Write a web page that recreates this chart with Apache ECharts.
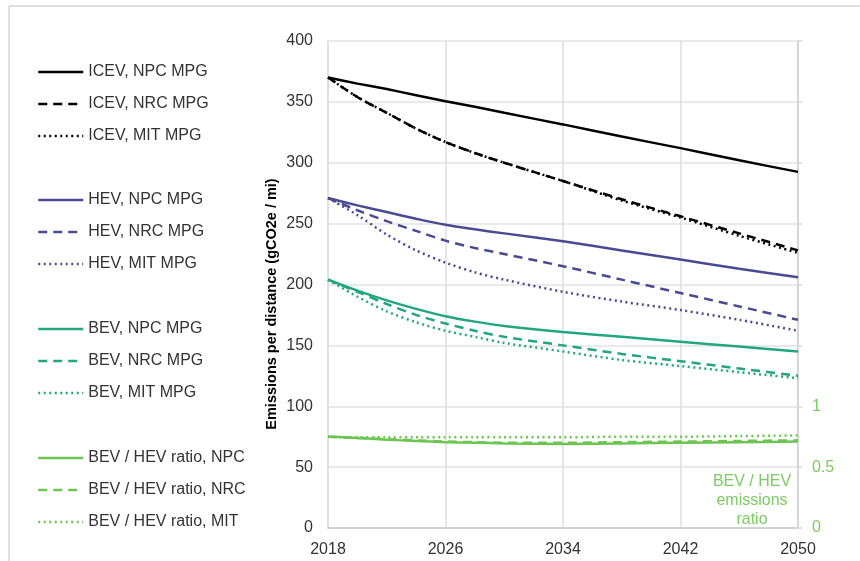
<!DOCTYPE html>
<html>
<head>
<meta charset="utf-8">
<script src="https://cdn.jsdelivr.net/npm/echarts@6/dist/echarts.min.js"></script>
<style>
html,body{margin:0;padding:0;background:#fff;}
#chart{width:860px;height:561px;}
</style>
</head>
<body>
<div id="chart"></div>
<script>
// ---- data ----
const years = [2018, 2020, 2022, 2024, 2026, 2028, 2030, 2034, 2038, 2042, 2046, 2050];
const xTicks = [2018, 2026, 2034, 2042, 2050];

const icevNPC = [370, 365, 360.5, 355.5, 350.5, 346, 341, 331.5, 321.5, 312, 302, 292.5];
const icevNRC = [370, 354, 341, 328, 317, 308, 300, 285, 270, 256, 242, 228];
const icevMIT = [370, 354, 341, 328, 317, 308, 300, 285, 269, 255, 240, 226];

const hevNPC = [271, 265, 259.5, 254, 249, 245.3, 242, 235.5, 228, 220.5, 213, 206];
const hevNRC = [271, 261, 252, 244, 236, 230, 225, 215, 204, 193, 182, 171];
const hevMIT = [271, 257, 241, 228, 218, 210, 204, 194, 186, 179, 171, 162];

const bevNPC = [204, 195, 187, 180, 174, 169.5, 166, 161, 157, 153, 149, 145];
const bevNRC = [204, 194, 184, 175, 168, 162, 157, 150, 143, 137, 131, 125];
const bevMIT = [204, 190, 178, 169, 162, 157, 152, 145, 138, 133, 128, 123];

const ratioNPC = [0.75, 0.74, 0.725, 0.715, 0.705, 0.70, 0.695, 0.69, 0.695, 0.70, 0.705, 0.71];
const ratioNRC = [0.75, 0.74, 0.73, 0.72, 0.71, 0.705, 0.70, 0.70, 0.705, 0.71, 0.715, 0.72];
const ratioMIT = [0.75, 0.745, 0.745, 0.745, 0.745, 0.745, 0.745, 0.745, 0.75, 0.75, 0.755, 0.76];

const leftTicks = [0, 50, 100, 150, 200, 250, 300, 350, 400];
const rightTicks = [0, 0.5, 1];

// ---- styling ----
const C_ICEV = '#000000';
const C_HEV = '#494b92';
const C_BEV = '#22a67f';
const C_RATIO = '#6cc551';
const C_RLABEL = '#7ccb60';
const DASH = [9, 6];
const DOT = [2, 3.5];

function pairs(vals) { return years.map((y, i) => [y, vals[i]]); }
function mk(name, vals, color, type, axis) {
  return {
    name: name, type: 'line', data: pairs(vals), yAxisIndex: axis || 0,
    symbol: 'none', smooth: 0.3, showSymbol: false,
    lineStyle: { color: color, width: 2.5, type: type },
    itemStyle: { color: color },
    emphasis: { disabled: true }
  };
}

const series = [
  mk('ICEV, NPC MPG', icevNPC, C_ICEV, 'solid'),
  mk('ICEV, NRC MPG', icevNRC, C_ICEV, DASH),
  mk('ICEV, MIT MPG', icevMIT, C_ICEV, DOT),
  mk('HEV, NPC MPG', hevNPC, C_HEV, 'solid'),
  mk('HEV, NRC MPG', hevNRC, C_HEV, DASH),
  mk('HEV, MIT MPG', hevMIT, C_HEV, DOT),
  mk('BEV, NPC MPG', bevNPC, C_BEV, 'solid'),
  mk('BEV, NRC MPG', bevNRC, C_BEV, DASH),
  mk('BEV, MIT MPG', bevMIT, C_BEV, DOT),
  mk('BEV / HEV ratio, NPC', ratioNPC, C_RATIO, 'solid', 1),
  mk('BEV / HEV ratio, NRC', ratioNRC, C_RATIO, DASH, 1),
  mk('BEV / HEV ratio, MIT', ratioMIT, C_RATIO, DOT, 1)
];

function legendGroup(names, top) {
  return {
    orient: 'vertical', left: 37, top: top, padding: 0,
    itemWidth: 45, itemHeight: 16, itemGap: 16,
    selectedMode: false,
    data: names,
    itemStyle: { opacity: 0 },
    lineStyle: { width: 2.5 },
    textStyle: { fontSize: 16, lineHeight: 16, color: '#333', fontFamily: 'Liberation Sans, Arial, sans-serif' }
  };
}

const chart = echarts.init(document.getElementById('chart'), null, { renderer: 'canvas' });
chart.setOption({
  animation: false,
  backgroundColor: '#ffffff',
  textStyle: { fontFamily: 'Liberation Sans, Arial, sans-serif' },
  grid: { left: 328, right: 62, top: 41, bottom: 33, containLabel: false },
  legend: [
    legendGroup(series.slice(0, 3).map(s => s.name), 64),
    legendGroup(series.slice(3, 6).map(s => s.name), 192),
    legendGroup(series.slice(6, 9).map(s => s.name), 321),
    legendGroup(series.slice(9, 12).map(s => s.name), 450)
  ],
  xAxis: {
    type: 'value', min: xTicks[0], max: xTicks[xTicks.length - 1], interval: 8,
    axisLine: { show: true, lineStyle: { color: '#c9c9c9', width: 1.5 } },
    axisTick: { show: false },
    splitLine: { show: true, lineStyle: { color: '#dedede', width: 1.5 } },
    axisLabel: { color: '#333', fontSize: 16, margin: 14, formatter: v => String(v) }
  },
  yAxis: [
    {
      type: 'value', min: leftTicks[0], max: leftTicks[leftTicks.length - 1], interval: 50,
      axisLine: { show: true, lineStyle: { color: '#dedede', width: 1.5 } },
      axisTick: { show: false },
      splitLine: { show: true, lineStyle: { color: '#e3e3e3', width: 1.5 } },
      axisLabel: { color: '#333', fontSize: 16, margin: 15 }
    },
    {
      type: 'value', position: 'right', min: 0, max: 4, interval: 0.5,
      axisLine: { show: true, lineStyle: { color: '#d0d0d0', width: 1.5 } },
      axisTick: { show: true, length: 4, lineStyle: { color: '#d9d9d9', width: 1.5 } },
      splitLine: { show: false },
      axisLabel: {
        color: C_RLABEL, fontSize: 16, margin: 14,
        formatter: v => (rightTicks.indexOf(v) >= 0 ? String(v) : '')
      }
    }
  ],
  series: series,
  graphic: [
    { type: 'line', shape: { x1: 9, y1: 6, x2: 860, y2: 6 }, style: { stroke: '#d4d4d4', lineWidth: 1.5 }, silent: true },
    { type: 'line', shape: { x1: 9, y1: 6, x2: 9, y2: 561 }, style: { stroke: '#d4d4d4', lineWidth: 1.5 }, silent: true },
    {
      type: 'text', x: 272, y: 304, rotation: Math.PI / 2, silent: true,
      style: {
        text: 'Emissions per distance (gCO2e / mi)', fontSize: 14.5, fontWeight: 'bold',
        fill: '#000', align: 'center', verticalAlign: 'middle',
        fontFamily: 'Liberation Sans, Arial, sans-serif'
      }
    },
    {
      type: 'text', x: 752, y: 472, silent: true,
      style: {
        text: 'BEV / HEV\nemissions\nratio', fontSize: 16, lineHeight: 19,
        fill: C_RLABEL, align: 'center', verticalAlign: 'top',
        fontFamily: 'Liberation Sans, Arial, sans-serif'
      }
    }
  ]
});
</script>
</body>
</html>
